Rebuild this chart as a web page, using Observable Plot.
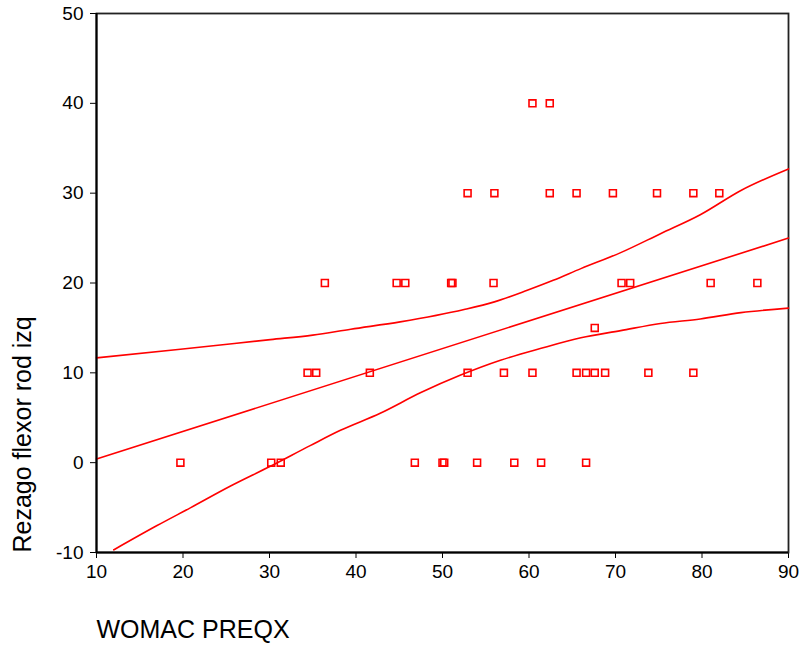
<!DOCTYPE html>
<html>
<head>
<meta charset="utf-8">
<script src="https://cdn.jsdelivr.net/npm/d3@7"></script>
<script src="https://cdn.jsdelivr.net/npm/@observablehq/plot@0.6"></script>
<style>
  html, body { margin: 0; padding: 0; background: #fff; }
</style>
</head>
<body>
<div id="chart"></div>
<script>
// Scatter points (WOMAC PREQX vs Rezago flexor rod izq)
const pointX = [19.7, 30.2, 31.3, 46.8, 50.0, 50.2, 54.0, 58.3, 61.4, 66.6,
                34.4, 35.4, 41.6, 52.9, 57.1, 60.4, 65.5, 66.6, 67.6, 68.8, 73.8, 79.0,
                67.6,
                36.4, 44.7, 45.7, 51.0, 51.15, 55.9, 70.7, 71.7, 81.0, 86.4,
                52.9, 56.0, 62.4, 65.5, 69.7, 74.8, 79.0, 82.0,
                60.4, 62.4];
const pointY = [0, 0, 0, 0, 0, 0, 0, 0, 0, 0,
                10, 10, 10, 10, 10, 10, 10, 10, 10, 10, 10, 10,
                15,
                20, 20, 20, 20, 20, 20, 20, 20, 20, 20,
                30, 30, 30, 30, 30, 30, 30, 30,
                40, 40];

// Fitted regression line
const fitX = [10, 90];
const fitY = [0.4, 25.0];

// Upper confidence curve
const upperX = [10, 19.7, 30.1, 35.0, 39.4, 45.1, 52.5, 56.0, 59.8, 62.8, 66.0, 70.6, 75.2, 79.8, 84.5, 90];
const upperY = [11.67, 12.63, 13.7, 14.2, 14.86, 15.67, 17.04, 17.9, 19.19, 20.3, 21.6, 23.38, 25.49, 27.6, 30.3, 32.7];

// Lower confidence curve
const lowerX = [12.0, 17.0, 20.9, 25.5, 30.1, 34.7, 38.2, 42.8, 47.5, 52.1, 56.7, 61.3, 66.0, 70.6, 75.2, 79.8, 84.5, 90];
const lowerY = [-9.7, -7.0, -5.0, -2.6, -0.4, 1.9, 3.6, 5.5, 7.8, 9.75, 11.4, 12.7, 13.9, 14.7, 15.5, 16.0, 16.7, 17.2];

// Axis ticks and titles
const xTicks = [10, 20, 30, 40, 50, 60, 70, 80, 90];
const yTicks = [-10, 0, 10, 20, 30, 40, 50];
const xTitle = "WOMAC PREQX";
const yTitle = "Rezago flexor rod izq";

const points = pointX.map((x, i) => ({x, y: pointY[i]}));
const fit = fitX.map((x, i) => ({x, y: fitY[i]}));
const upper = upperX.map((x, i) => ({x, y: upperY[i]}));
const lower = lowerX.map((x, i) => ({x, y: lowerY[i]}));

const RED = "#ff0000";

const chart = Plot.plot({
  width: 801,
  height: 652,
  marginLeft: 96,
  marginRight: 13,
  marginTop: 13,
  marginBottom: 100,
  style: {
    fontFamily: "'Liberation Sans', Arial, sans-serif",
    fontSize: "19px",
    color: "#000",
    background: "#fff"
  },
  x: {domain: [10, 90], ticks: xTicks, tickSize: 6, tickPadding: 6, label: null, tickFormat: d => String(d)},
  y: {domain: [-10, 50], ticks: yTicks, tickSize: 6, tickPadding: 7, label: null, tickFormat: d => String(d)},
  marks: [
    Plot.frame({stroke: "#222", strokeWidth: 1.8}),
    Plot.line(upper, {x: "x", y: "y", stroke: RED, strokeWidth: 1.6, curve: "monotone-x"}),
    Plot.line(fit, {x: "x", y: "y", stroke: RED, strokeWidth: 1.6}),
    Plot.line(lower, {x: "x", y: "y", stroke: RED, strokeWidth: 1.6, curve: "monotone-x"}),
    Plot.dot(points, {x: "x", y: "y", symbol: "square", r: 3.9, stroke: RED, strokeWidth: 1.6, fill: "none"}),
    Plot.ruleX([10], {stroke: "#000", strokeWidth: 2}),
    Plot.ruleY([-10], {stroke: "#000", strokeWidth: 2}),
    Plot.text([xTitle], {frameAnchor: "bottom-left", textAnchor: "start", dy: 85, fontSize: 25, fill: "#000"}),
    Plot.text([yTitle], {frameAnchor: "bottom-left", textAnchor: "start", rotate: -90, dx: -66, fontSize: 25, fill: "#000"})
  ]
});
document.getElementById("chart").appendChild(chart);
</script>
</body>
</html>
